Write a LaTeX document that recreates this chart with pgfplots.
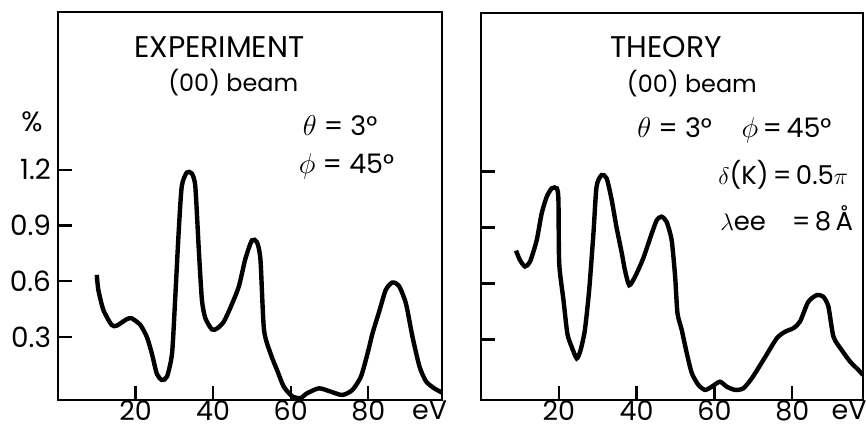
\documentclass[border=0pt]{standalone}
\usepackage{fontspec}
\setmainfont{Poppins}
\usepackage{pgfplots}
\pgfplotsset{compat=1.18}
\pgfplotstableread{
x y
10.0 0.634
10.4 0.553
11.7 0.445
13.8 0.365
15.1 0.36
17.7 0.395
19.0 0.40
21.2 0.365
22.9 0.30
24.2 0.21
25.5 0.10
26.8 0.068
28.1 0.086
29.4 0.21
30.2 0.50
31.1 0.86
31.9 1.11
33.2 1.185
34.5 1.18
35.4 1.11
36.3 0.77
37.1 0.50
38.0 0.40
39.7 0.34
41.0 0.345
42.7 0.38
44.4 0.455
46.6 0.57
48.3 0.72
50.0 0.82
51.3 0.81
52.2 0.715
53.1 0.34
54.8 0.21
56.5 0.12
58.2 0.032
60.4 -0.02
62.5 -0.03
64.2 -0.004
67.3 0.023
70.3 0.005
73.3 -0.013
75.9 0.014
78.1 0.086
79.8 0.21
81.1 0.32
82.8 0.436
84.5 0.553
86.2 0.593
87.9 0.575
89.7 0.48
91.4 0.30
93.2 0.14
94.9 0.06
97.0 0.023
99.0 0.0
}\expdata
\pgfplotstableread{
x y
9.0 0.775
10.0 0.725
11.3 0.69
12.6 0.716
14.3 0.83
15.6 0.975
16.9 1.064
18.2 1.109
19.5 1.109
19.9 1.046
20.1 0.707
21.2 0.51
22.2 0.33
23.3 0.26
24.6 0.198
25.6 0.243
26.7 0.35
27.8 0.564
28.9 0.868
29.7 1.118
31.0 1.18
32.3 1.162
33.6 1.046
34.8 0.904
36.2 0.76
37.0 0.67
38.1 0.59
39.6 0.636
41.7 0.734
43.9 0.868
45.2 0.939
46.4 0.957
47.7 0.93
49.0 0.832
49.9 0.636
50.5 0.44
51.6 0.35
52.9 0.225
54.2 0.118
55.9 0.055
57.6 0.029
59.3 0.046
61.4 0.073
63.2 0.046
65.3 0.029
67.4 0.037
69.6 0.091
72.6 0.19
76.0 0.305
78.1 0.34
80.3 0.36
82.0 0.395
84.1 0.50
86.3 0.537
88.0 0.528
89.3 0.475
90.6 0.314
92.7 0.243
94.9 0.18
97.0 0.136
98.2 0.109
}\theodata
\pgfplotsset{
  panel/.style={
    scale only axis,
    clip mode=individual,
    axis line style={line width=1.4bp},
    tick style={line width=1.2bp, black},
    tick align=inside,
    xtick pos=bottom,
    ytick pos=left,
    major tick length=7bp,
    xtick={20,40,60,80},
    extra x tick style={tick style={draw=none}},
    ytick={0.3,0.6,0.9,1.2},
    /pgf/number format/assume math mode=true,
    /pgf/number format/fixed,
    /pgf/number format/fixed zerofill,
    ticklabel style={font=\fontsize{14}{16}\selectfont},
    xticklabel style={/pgf/number format/precision=0, inner sep=0pt, yshift=-0.3bp, font=\fontsize{13.5}{15}\selectfont},
    yticklabel style={/pgf/number format/precision=1},
  },
  curve/.style={black, line width=2.2bp, smooth, tension=0.4, no markers},
}
\tikzset{
  txt/.style={font=\fontsize{12}{14}\selectfont, inner sep=0pt},
  ttl/.style={font=\fontsize{15}{17}\selectfont, inner sep=0pt},
}
\begin{document}
\begin{tikzpicture}[x=1bp,y=1bp]
\useasboundingbox (0,0) rectangle (433,215);
\begin{axis}[panel, at={(29bp,15bp)}, anchor=south west,
  width=192bp, height=194bp,
  xmin=0, xmax=99, ymin=-0.04, ymax=2.05,
  extra x ticks={95.8}, extra x tick labels={eV}]
\addplot[curve] table {\expdata};
\node[ttl] at (axis cs:41.6,1.86) {EXPERIMENT};
\node[txt] at (axis cs:45.2,1.67) {(00) beam};
\node[txt, font=\fontsize{13.5}{15}\selectfont, anchor=west] at (axis cs:63.0,1.44) {$\theta$ = 3°};
\node[txt, font=\fontsize{13.5}{15}\selectfont, anchor=west] at (axis cs:62.0,1.22) {$\phi$ = 45°};
\node[txt, font=\fontsize{14}{16}\selectfont, xshift=-13bp] at (axis cs:0,1.46) {\%};
\end{axis}
\begin{axis}[panel, at={(240.5bp,15bp)}, anchor=south west,
  width=191bp, height=193.5bp,
  xmin=0, xmax=98.2, ymin=-0.025, ymax=2.048, yticklabels={},
  extra x ticks={94.6}, extra x tick labels={eV}]
\addplot[curve] table {\theodata};
\node[ttl] at (axis cs:47.6,1.865) {THEORY};
\node[txt] at (axis cs:54.2,1.67) {(00) beam};
\node[txt, font=\fontsize{13.5}{15}\selectfont, anchor=west] at (axis cs:40.1,1.42) {$\theta$ = 3°\hspace{1.1em}$\phi$\,=\,45°};
\node[txt, font=\fontsize{13}{15}\selectfont, anchor=west] at (axis cs:60.9,1.18) {$\delta$(K)\,=\,0.5$\pi$};
\node[txt, font=\fontsize{13}{15}\selectfont, anchor=west] at (axis cs:61.4,0.95) {$\lambda$ee\hspace{1em}=\,8\,Å};
\end{axis}
\end{tikzpicture}
\end{document}
